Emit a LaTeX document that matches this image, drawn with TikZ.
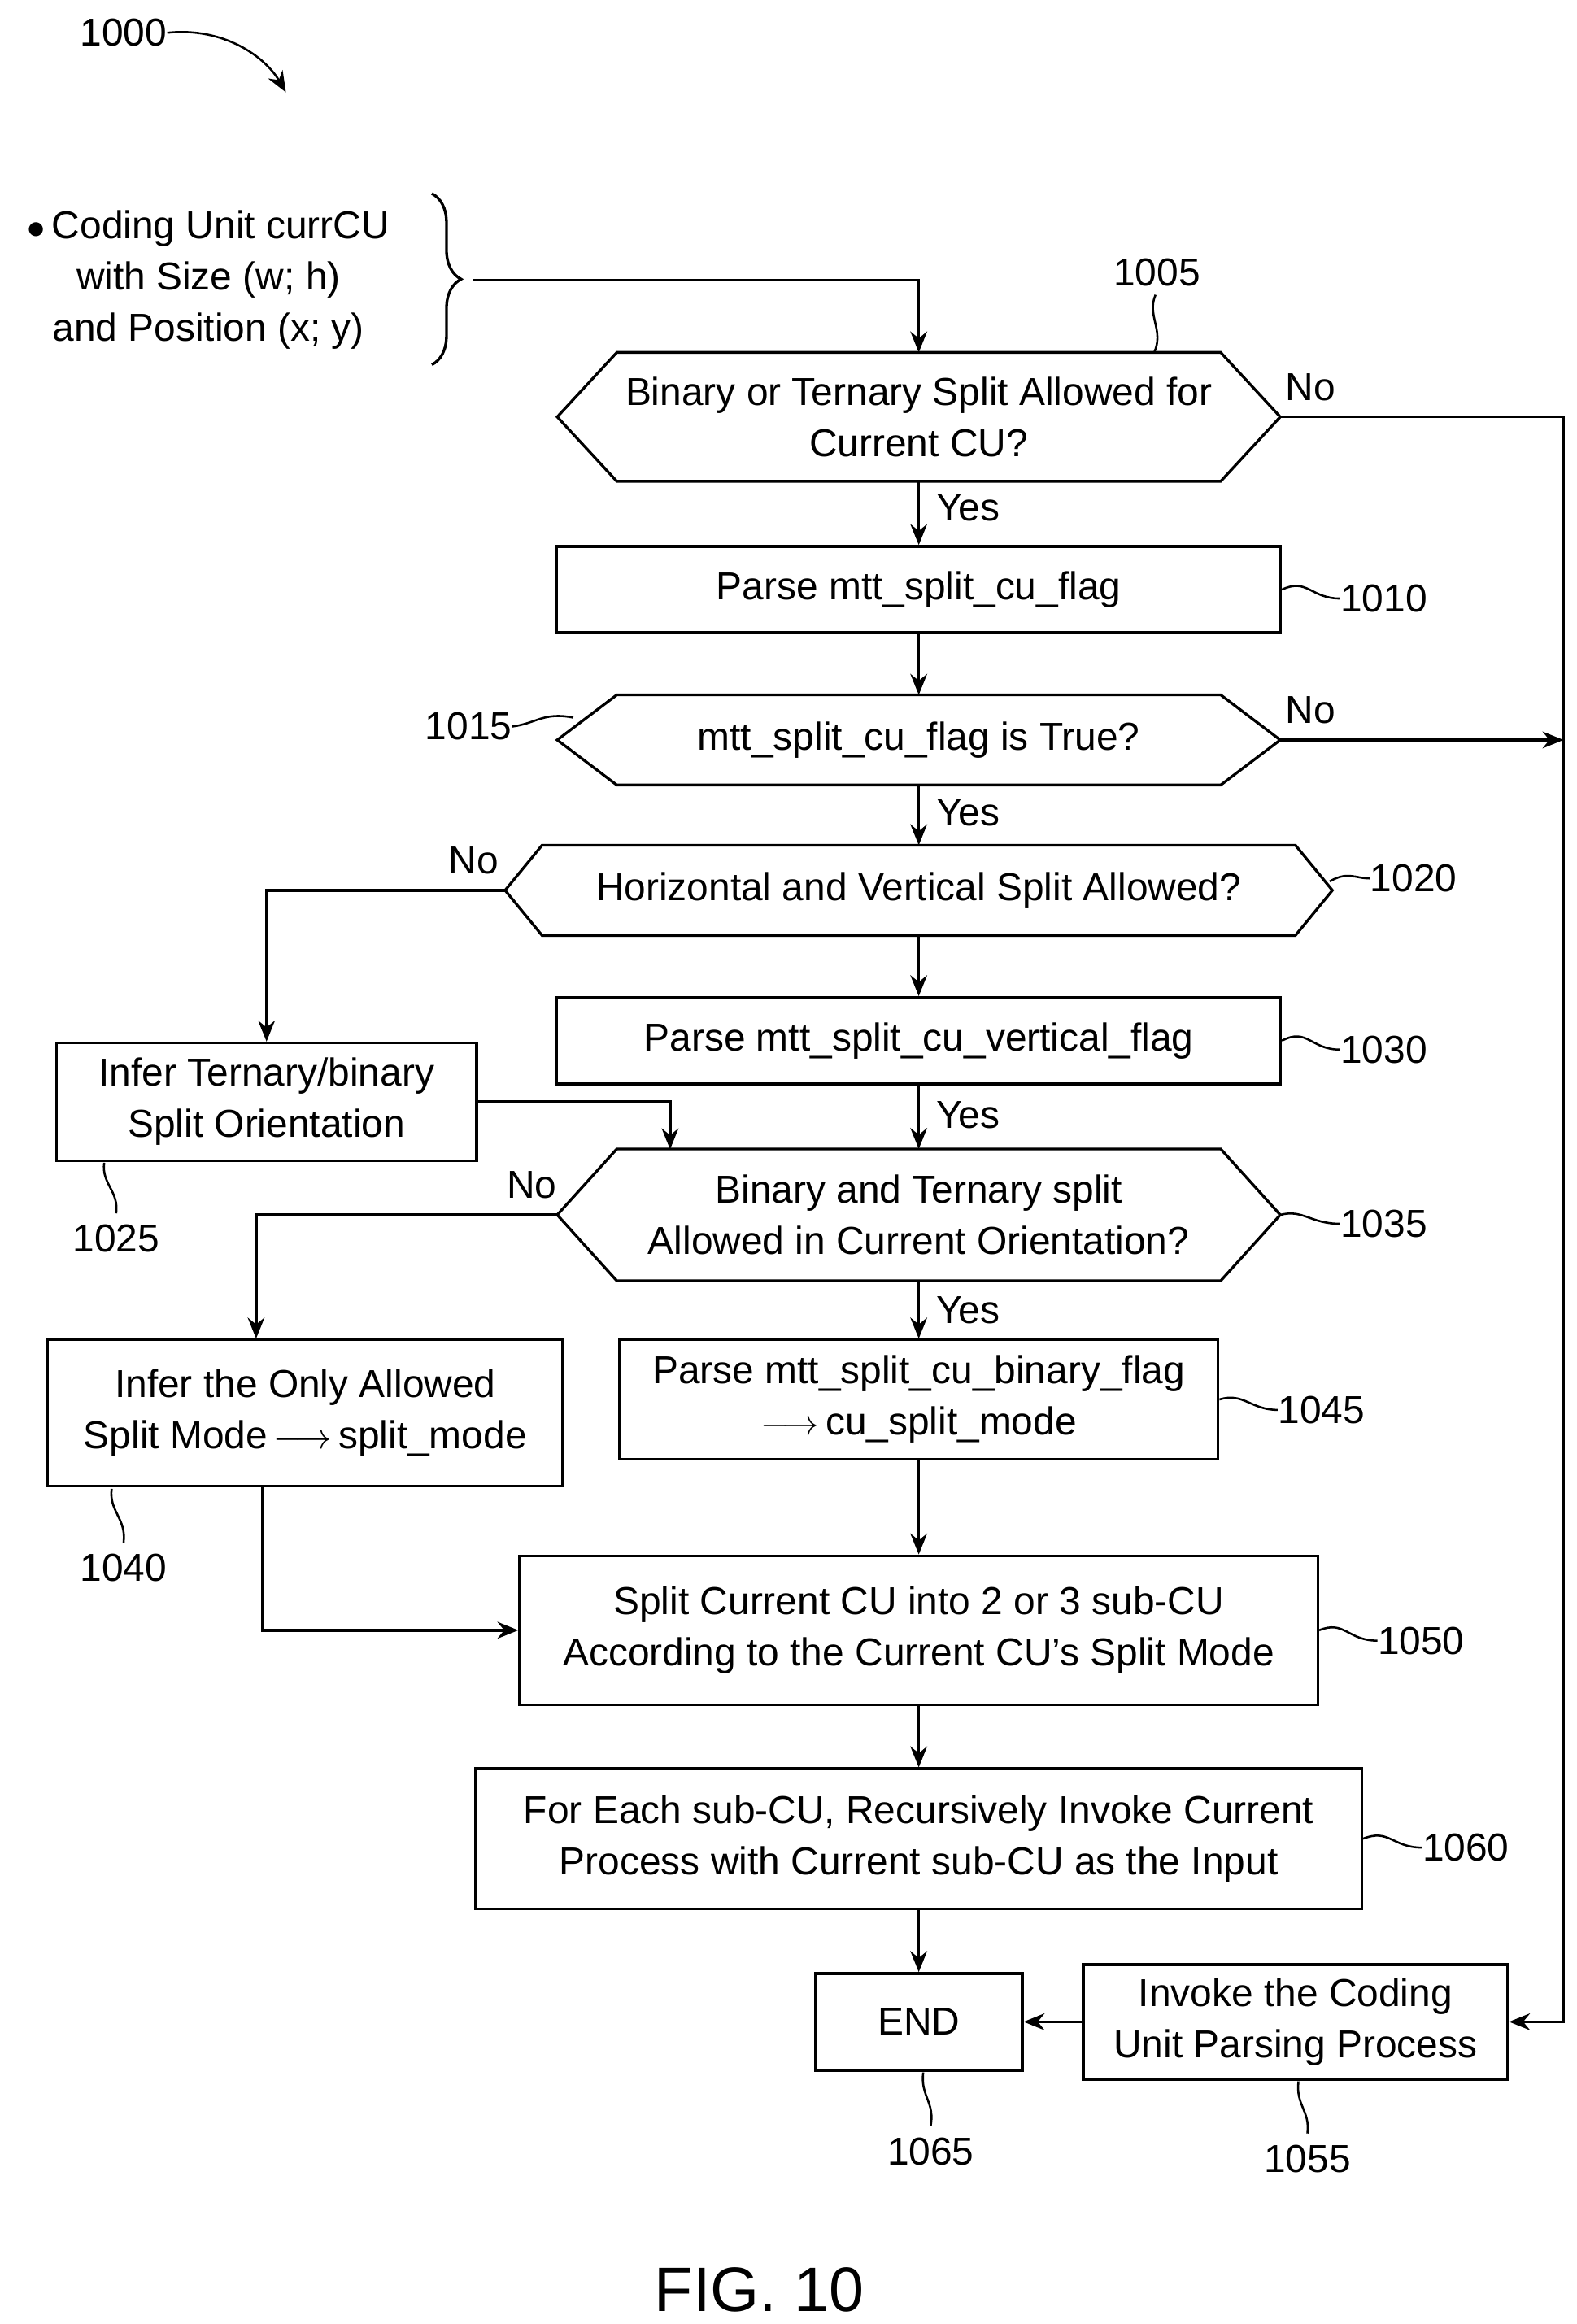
\documentclass[tikz,border=0pt]{standalone}
\usepackage{fontspec}
\setmainfont{Liberation Sans}
\usetikzlibrary{arrows.meta,decorations.pathreplacing}
\begin{document}
\begin{tikzpicture}[x=0.025cm,y=-0.025cm,
  every node/.style={font=\fontsize{18.6}{24.5}\selectfont, align=center, inner sep=0pt},
  box/.style={draw, line width=1.3pt},
  ar/.style={line width=1.3pt, -{Stealth[length=10pt,width=8pt]}},
  ln/.style={line width=1.3pt},
  lead/.style={line width=1pt}]
\useasboundingbox (0,0) rectangle (1059,1561);
\newcommand\hexa[2]{\draw[ln] (#1.west) -- ([xshift=#2]#1.north west) -- ([xshift=-#2]#1.north east) -- (#1.east) -- ([xshift=-#2]#1.south east) -- ([xshift=#2]#1.south west) -- cycle;}
% title
\node (t1000) at (83,22) {1000};
\draw[ar,line width=1pt] (t1000.east) .. controls (150,18) and (178,38) .. (192,62);
% input
\node (in) at (140,188) {$\bullet$\,Coding Unit currCU\\with Size (w; h)\\and Position (x; y)};
\draw[ln,decorate,decoration={brace,amplitude=14pt}] (290,130) -- (290,245);
\coordinate (brt) at (318,188);
% nodes
\node (h1005) at (617,280) [minimum width=485*0.025cm, minimum height=86*0.025cm] {Binary or Ternary Split Allowed for\\Current CU?};
\hexa{h1005}{1cm}
\node[box, minimum width=486*0.025cm, minimum height=58*0.025cm] (b1010) at (617,396) {Parse mtt\_split\_cu\_flag};
\node (h1015) at (617,497) [minimum width=485*0.025cm, minimum height=60*0.025cm] {mtt\_split\_cu\_flag is True?};
\hexa{h1015}{1cm}
\node (h1020) at (617,598) [minimum width=555*0.025cm, minimum height=60*0.025cm] {Horizontal and Vertical Split Allowed?};
\hexa{h1020}{0.62cm}
\node[box, minimum width=486*0.025cm, minimum height=58*0.025cm] (b1030) at (617,699) {Parse mtt\_split\_cu\_vertical\_flag};
\node[box, minimum width=282*0.025cm, minimum height=79*0.025cm] (b1025) at (179,740) {Infer Ternary/binary\\Split Orientation};
\node (h1035) at (617,816) [minimum width=485*0.025cm, minimum height=88*0.025cm] {Binary and Ternary split\\Allowed in Current Orientation?};
\hexa{h1035}{1cm}
\node[box, minimum width=346*0.025cm, minimum height=98*0.025cm] (b1040) at (205,949) {Infer the Only Allowed\\Split Mode$\,\longrightarrow$\,split\_mode};
\node[box, minimum width=402*0.025cm, minimum height=80*0.025cm] (b1045) at (617,940) {Parse mtt\_split\_cu\_binary\_flag\\$\longrightarrow$\,cu\_split\_mode};
\node[box, minimum width=536*0.025cm, minimum height=100*0.025cm] (b1050) at (617,1095) {Split Current CU into 2 or 3 sub-CU\\According to the Current CU's Split Mode};
\node[box, minimum width=595*0.025cm, minimum height=94*0.025cm] (b1060) at (617,1235) {For Each sub-CU, Recursively Invoke Current\\Process with Current sub-CU as the Input};
\node[box, minimum width=139*0.025cm, minimum height=65*0.025cm] (bend) at (617,1358) {END};
\node[box, minimum width=285*0.025cm, minimum height=77*0.025cm] (b1055) at (870,1358) {Invoke the Coding\\Unit Parsing Process};
% connectors
\coordinate (r1) at (1050,280);
\coordinate (r2) at (1050,1358);
\draw[ar] (brt) -| (h1005.north);
\draw[ar] (h1005.east) -- (r1) -- (r2) -- (b1055.east);
\draw[ar] (h1005.south) -- (b1010.north);
\draw[ar] (b1010.south) -- (h1015.north);
\draw[ar] (h1015.east) -- (1050,497);
\draw[ar] (h1015.south) -- (h1020.north);
\draw[ar] (h1020.west) -| (b1025.north);
\draw[ar] (h1020.south) -- (b1030.north);
\draw[ar] (b1030.south) -- (h1035.north);
\draw[ar] (b1025.east) -| (450,772);
\draw[ar] (h1035.west) -| (b1040.north-|172,0);
\draw[ar] (h1035.south) -- (b1045.north);
\draw[ar] (b1045.south) -- (b1050.north);
\draw[ar] (b1040.south-|176,0) |- (b1050.west);
\draw[ar] (b1050.south) -- (b1060.north);
\draw[ar] (b1060.south) -- (bend.north);
\draw[ar] (b1055.west) -- (bend.east);
% yes/no
\node at (880,260) {No};
\node at (650,341) {Yes};
\node at (880,477) {No};
\node at (650,546) {Yes};
\node at (318,578) {No};
\node at (650,749) {Yes};
\node at (357,796) {No};
\node at (650,880) {Yes};
% reference labels
\node (l1005) at (777,183) {1005};
\draw[lead] (776,198) .. controls (770,212) and (782,222) .. (775,237);
\node[anchor=west] (l1010) at (900,402) {1010};
\draw[lead] (b1010.east|-0,396) .. controls (878,388) and (880,402) .. (l1010.west);
\node[anchor=east] (l1015) at (344,488) {1015};
\draw[lead] (l1015.east) .. controls (360,486) and (365,478) .. (385,482);
\node[anchor=west] (l1020) at (920,590) {1020};
\draw[lead] (893,592) .. controls (905,585) and (910,590) .. (l1020.west);
\node[anchor=west] (l1030) at (900,705) {1030};
\draw[lead] (b1030.east|-0,699) .. controls (878,690) and (880,705) .. (l1030.west);
\node (l1025) at (78,832) {1025};
\draw[lead] (70,781) .. controls (68,795) and (80,800) .. (78,815);
\node[anchor=west] (l1035) at (900,822) {1035};
\draw[lead] (h1035.east) .. controls (875,812) and (880,822) .. (l1035.west);
\node[anchor=west] (l1045) at (858,947) {1045};
\draw[lead] (b1045.east|-0,940) .. controls (835,935) and (840,947) .. (l1045.west);
\node (l1040) at (83,1053) {1040};
\draw[lead] (75,1000) .. controls (73,1015) and (85,1020) .. (83,1036);
\node[anchor=west] (l1050) at (925,1102) {1050};
\draw[lead] (b1050.east|-0,1095) .. controls (903,1088) and (905,1102) .. (l1050.west);
\node[anchor=west] (l1060) at (955,1241) {1060};
\draw[lead] (b1060.east|-0,1235) .. controls (933,1228) and (935,1241) .. (l1060.west);
\node (l1065) at (625,1445) {1065};
\draw[lead] (620,1392) .. controls (618,1408) and (628,1412) .. (625,1428);
\node (l1055) at (878,1450) {1055};
\draw[lead] (872,1398) .. controls (870,1414) and (880,1418) .. (878,1433);
\node[font=\fontsize{30}{36}\selectfont] at (510,1538) {FIG. 10};
\end{tikzpicture}
\end{document}
